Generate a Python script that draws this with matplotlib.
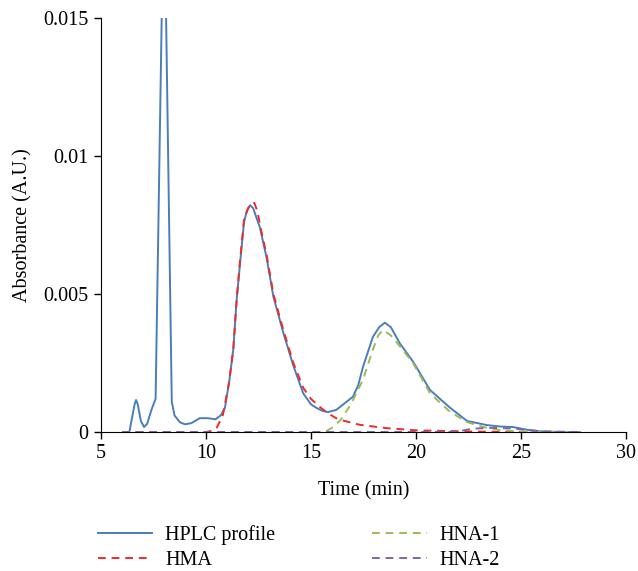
import matplotlib
matplotlib.use('Agg')
import matplotlib.pyplot as plt

plt.rcParams['font.family'] = ['Liberation Serif', 'DejaVu Serif']

# HPLC trace (min, A.U.)
hplc_t = [6.35, 6.5, 6.6, 6.67, 6.75, 6.9, 7.05, 7.2, 7.4, 7.6, 7.89, 7.995,
          8.1, 8.37, 8.5, 8.76, 9.0, 9.3, 9.7, 10.1, 10.45, 10.7, 10.9, 11.1,
          11.3, 11.46, 11.62, 11.81, 11.94, 12.1, 12.25, 12.57, 12.89, 13.21,
          13.68, 14.16, 14.63, 15.0, 15.27, 15.5, 15.8, 16.2, 16.62, 17.0,
          17.25, 17.48, 17.95, 18.25, 18.52, 18.8, 19.24, 19.86, 20.67, 21.62,
          22.43, 23.38, 24.0, 24.62, 25.3, 26.0, 27.0, 27.8]
hplc_y = [0.0, 0.0006, 0.0010, 0.00116, 0.0010, 0.0004, 0.00018, 0.0003,
          0.0008, 0.0012, 0.015, 0.0202, 0.015, 0.0011, 0.0006, 0.00035,
          0.00028, 0.00032, 0.0005, 0.0005, 0.00046, 0.0006, 0.00087, 0.0018,
          0.0030, 0.0048, 0.0061, 0.0076, 0.0080, 0.00822, 0.0081, 0.0074,
          0.0063, 0.0049, 0.0036, 0.0024, 0.0014, 0.0010, 0.00087, 0.00078,
          0.00072, 0.0008, 0.00105, 0.00128, 0.0017, 0.00237, 0.00345, 0.0038,
          0.00396, 0.0038, 0.0032, 0.00255, 0.00152, 0.00088, 0.0004, 0.00025,
          0.0002, 0.00018, 0.00008, 0.00002, 0.0, 0.0]

# HMA fitted peak
hma_t = [6.0, 10.0, 10.3, 10.5, 10.8, 11.1, 11.3, 11.46, 11.62, 11.81, 12.0,
         12.15, 12.3, 12.45, 12.57, 12.89, 13.21, 13.68, 14.16, 14.63, 15.0,
         15.43, 15.8, 16.2, 16.6, 17.33, 18.6, 20.0, 22.4, 25.0, 27.8]
hma_y = [0.0, 0.0, 0.00005, 0.00014, 0.0006, 0.0018, 0.0030, 0.0048, 0.0062,
         0.0077, 0.0081, 0.00828, 0.0083, 0.0080, 0.0075, 0.0064, 0.0050,
         0.0037, 0.0025, 0.0016, 0.0012, 0.0009, 0.00068, 0.0005, 0.0004,
         0.00026, 0.00014, 0.00006, 0.00002, 0.0, 0.0]

# HNA-1 fitted peak
hna1_t = [6.0, 15.5, 15.7, 16.0, 16.4, 16.9, 17.48, 17.95, 18.2, 18.43, 18.8,
          19.24, 19.86, 20.67, 21.62, 22.43, 23.2, 24.0, 25.0, 27.8]
hna1_y = [0.0, 0.0, 0.00002, 0.00015, 0.00043, 0.0010, 0.0019, 0.0030,
          0.0035, 0.0037, 0.0035, 0.0031, 0.0025, 0.0014, 0.00073, 0.00036,
          0.00018, 0.00007, 0.00001, 0.0]

# HNA-2 fitted peak
hna2_t = [6.0, 21.5, 22.2, 22.7, 23.5, 24.6, 25.3, 26.0, 27.8]
hna2_y = [0.0, 0.0, 0.00005, 0.00012, 0.00015, 0.00013, 0.00007, 0.00002, 0.0]

fig = plt.figure(figsize=(6.38, 5.71), dpi=100)
ax = fig.add_axes([101 / 638, 1 - 432 / 571, 525 / 638, 414 / 571])

ax.plot(hplc_t, hplc_y, color='#4A7EBB', lw=1.4, label='HPLC profile')
ax.plot(hma_t, hma_y, color='#EE2B2B', lw=1.4, ls=(0, (4, 3)), label='HMA')
ax.plot(hna1_t, hna1_y, color='#9BBB59', lw=1.4, ls=(0, (4, 3)), label='HNA-1')
ax.plot(hna2_t, hna2_y, color='#8064A2', lw=1.4, ls=(0, (4, 3)), label='HNA-2')

ax.set_xlim(5, 30)
ax.set_ylim(0, 0.015)
ax.set_xticks([5, 10, 15, 20, 25, 30])
ax.set_yticks([0, 0.005, 0.01, 0.015])
ax.set_yticklabels(['0', '0.005', '0.01', '0.015'])
ax.spines['top'].set_visible(False)
ax.spines['right'].set_visible(False)
ax.tick_params(direction='out', length=5, width=1, labelsize=14.5, pad=4)
ax.set_xlabel('Time (min)', fontsize=14.5, labelpad=13)
ax.set_ylabel('Absorbance (A.U.)', fontsize=14.5, labelpad=8)

fig.legend(loc='upper left', bbox_to_anchor=(98 / 638, 1 - 525 / 571),
           ncol=2, frameon=False, fontsize=14.5, handlelength=2.7,
           handletextpad=0.65, columnspacing=4.8, labelspacing=0.28,
           borderpad=0, borderaxespad=0)

plt.savefig('out.png', dpi=100)
